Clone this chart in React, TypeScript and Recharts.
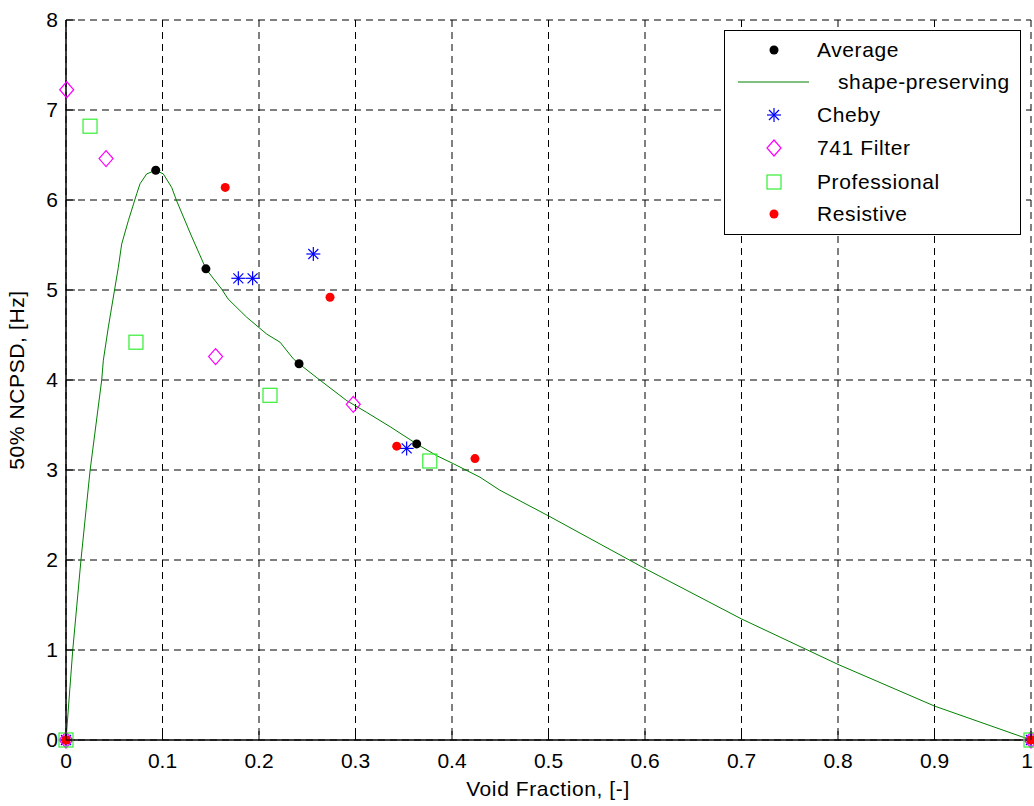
import React from 'react';
import {
  ComposedChart,
  Scatter,
  Line,
  XAxis,
  YAxis,
  CartesianGrid,
  Legend,
} from 'recharts';

const seriesNames = ['Average', 'shape-preserving', 'Cheby', '741 Filter', 'Professional', 'Resistive'];

const xTicks = [0, 0.1, 0.2, 0.3, 0.4, 0.5, 0.6, 0.7, 0.8, 0.9, 1];
const yTicks = [0, 1, 2, 3, 4, 5, 6, 7, 8];

const averagePoints = [
  { x: 0, y: 0 },
  { x: 0.093, y: 6.33 },
  { x: 0.145, y: 5.235 },
  { x: 0.2415, y: 4.18 },
  { x: 0.3634, y: 3.29 },
  { x: 1, y: 0 },
];

const shapePreservingPoints = [
  { x: 0, y: 0 },
  { x: 0.007, y: 1 },
  { x: 0.0155, y: 2 },
  { x: 0.025, y: 3 },
  { x: 0.037, y: 4 },
  { x: 0.0387, y: 4.22 },
  { x: 0.0439, y: 4.59 },
  { x: 0.0542, y: 5.25 },
  { x: 0.0577, y: 5.51 },
  { x: 0.0646, y: 5.77 },
  { x: 0.0733, y: 6.07 },
  { x: 0.0767, y: 6.18 },
  { x: 0.0836, y: 6.29 },
  { x: 0.093, y: 6.33 },
  { x: 0.1008, y: 6.29 },
  { x: 0.1095, y: 6.14 },
  { x: 0.1147, y: 5.99 },
  { x: 0.13, y: 5.6 },
  { x: 0.145, y: 5.235 },
  { x: 0.1613, y: 5.01 },
  { x: 0.168, y: 4.9 },
  { x: 0.187, y: 4.7 },
  { x: 0.208, y: 4.51 },
  { x: 0.2218, y: 4.42 },
  { x: 0.2356, y: 4.235 },
  { x: 0.2415, y: 4.18 },
  { x: 0.263, y: 4.0 },
  { x: 0.291, y: 3.77 },
  { x: 0.3116, y: 3.64 },
  { x: 0.336, y: 3.48 },
  { x: 0.3634, y: 3.29 },
  { x: 0.384, y: 3.16 },
  { x: 0.4014, y: 3.07 },
  { x: 0.429, y: 2.92 },
  { x: 0.4497, y: 2.775 },
  { x: 0.5, y: 2.49 },
  { x: 0.6, y: 1.905 },
  { x: 0.7, y: 1.345 },
  { x: 0.8, y: 0.84 },
  { x: 0.9, y: 0.377 },
  { x: 1, y: 0 },
];

const chebyPoints = [
  { x: 0, y: 0 },
  { x: 0.1786, y: 5.13 },
  { x: 0.1934, y: 5.13 },
  { x: 0.2563, y: 5.4 },
  { x: 0.353, y: 3.24 },
  { x: 1, y: 0 },
];

const filter741Points = [
  { x: 0, y: 0 },
  { x: 0.0007, y: 7.225 },
  { x: 0.0415, y: 6.46 },
  { x: 0.155, y: 4.26 },
  { x: 0.2977, y: 3.73 },
  { x: 1, y: 0 },
];

const professionalPoints = [
  { x: 0, y: 0 },
  { x: 0.0249, y: 6.82 },
  { x: 0.0725, y: 4.42 },
  { x: 0.2114, y: 3.83 },
  { x: 0.377, y: 3.1 },
  { x: 1, y: 0 },
];

const resistivePoints = [
  { x: 0, y: 0 },
  { x: 0.165, y: 6.14 },
  { x: 0.2736, y: 4.92 },
  { x: 0.3427, y: 3.265 },
  { x: 0.4238, y: 3.127 },
  { x: 1, y: 0 },
];

const FONT = '"Liberation Sans", Arial, Helvetica, sans-serif';
const FONT_SIZE = 21;
const LETTER = 0.6;
const TICK_LEN = 9;

const COLORS = {
  average: '#000000',
  line: '#008000',
  cheby: '#0000ff',
  filter: '#ff00ff',
  prof: '#33ee33',
  resistive: '#ff0000',
};

const DotMark = ({ cx, cy, color }: any) => <circle cx={cx} cy={cy} r={4.5} fill={color} stroke="none" />;
const StarMark = ({ cx, cy, color }: any) => (
  <g stroke={color} strokeWidth={1.2} fill="none">
    <line x1={cx - 7} y1={cy} x2={cx + 7} y2={cy} />
    <line x1={cx} y1={cy - 7} x2={cx} y2={cy + 7} />
    <line x1={cx - 5} y1={cy - 5} x2={cx + 5} y2={cy + 5} />
    <line x1={cx - 5} y1={cy + 5} x2={cx + 5} y2={cy - 5} />
  </g>
);
const DiamondMark = ({ cx, cy, color }: any) => (
  <polygon
    points={`${cx},${cy - 8} ${cx + 7},${cy} ${cx},${cy + 8} ${cx - 7},${cy}`}
    fill="none"
    stroke={color}
    strokeWidth={1.2}
  />
);
const SquareMark = ({ cx, cy, color }: any) => (
  <rect x={cx - 7} y={cy - 7} width={14} height={14} fill="none" stroke={color} strokeWidth={1.2} />
);

const BottomTick = (props: any) => {
  const { x, y, payload, index } = props;
  const axisY = y - 13;
  const isLast = payload.value === 1;
  return (
    <g>
      <line x1={x} y1={axisY} x2={x} y2={axisY - TICK_LEN} stroke="#000" strokeWidth={1} />
      <text
        x={isLast ? x + 2 : x}
        y={y}
        dy="0.71em"
        textAnchor={isLast ? 'end' : 'middle'}
        fontFamily={FONT}
        fontSize={FONT_SIZE}
        fill="#000"
      >
        {String(payload.value)}
      </text>
    </g>
  );
};

const LeftTick = (props: any) => {
  const { x, y, payload } = props;
  const axisX = x + 8;
  return (
    <g>
      <line x1={axisX} y1={y} x2={axisX + TICK_LEN} y2={y} stroke="#000" strokeWidth={1} />
      <text x={x} y={y} dy="0.355em" textAnchor="end" fontFamily={FONT} fontSize={FONT_SIZE} fill="#000">
        {String(payload.value)}
      </text>
    </g>
  );
};

const TopTick = (props: any) => {
  const { x, y } = props;
  return <line x1={x} y1={y} x2={x} y2={y + TICK_LEN} stroke="#000" strokeWidth={1} />;
};

const RightTick = (props: any) => {
  const { x, y } = props;
  return <line x1={x} y1={y} x2={x - TICK_LEN} y2={y} stroke="#000" strokeWidth={1} />;
};

const legendSymbols = [
  (cx: number, cy: number) => <DotMark cx={cx} cy={cy} color={COLORS.average} />,
  (cx: number, cy: number) => (
    <line x1={14} y1={cy} x2={85} y2={cy} stroke={COLORS.line} strokeWidth={1} />
  ),
  (cx: number, cy: number) => <StarMark cx={cx} cy={cy} color={COLORS.cheby} />,
  (cx: number, cy: number) => <DiamondMark cx={cx} cy={cy} color={COLORS.filter} />,
  (cx: number, cy: number) => <SquareMark cx={cx} cy={cy} color={COLORS.prof} />,
  (cx: number, cy: number) => <DotMark cx={cx} cy={cy} color={COLORS.resistive} />,
];

const legendRowY = [20, 52, 85, 118, 152, 184];

const LegendBox = () => (
  <svg width={297} height={205} style={{ display: 'block' }}>
    <rect x={0.5} y={0.5} width={296} height={204} fill="#fff" stroke="#000" strokeWidth={1} />
    {seriesNames.map((name, i) => (
      <g key={name}>
        {legendSymbols[i](50, legendRowY[i])}
        <text
          x={i === 1 ? 114 : 93}
          y={legendRowY[i]}
          dy="0.355em"
          fontFamily={FONT}
          fontSize={FONT_SIZE}
          letterSpacing={LETTER}
          fill="#000"
        >
          {name}
        </text>
      </g>
    ))}
  </svg>
);

const XLabel = () => (
  <text x={548} y={796} textAnchor="middle" fontFamily={FONT} fontSize={FONT_SIZE} letterSpacing={LETTER} fill="#000">
    Void Fraction, [-]
  </text>
);

const YLabel = () => (
  <text
    x={24}
    y={380}
    textAnchor="middle"
    transform="rotate(-90 24 380)"
    fontFamily={FONT}
    fontSize={FONT_SIZE}
    letterSpacing={LETTER}
    fill="#000"
  >
    50% NCPSD, [Hz]
  </text>
);

export default function App() {
  return (
    <div style={{ position: 'fixed', left: 0, top: 0, width: 1034, height: 806, background: '#fff', overflow: 'hidden' }}>
      <ComposedChart width={1034} height={806} margin={{ top: 20, right: 3, bottom: 0, left: 0 }}>
        <CartesianGrid
          xAxisId="main"
          yAxisId="main"
          stroke="#000"
          strokeDasharray="7 5"
          strokeWidth={1}
        />
        <XAxis
          xAxisId="main"
          type="number"
          dataKey="x"
          domain={[0, 1]}
          ticks={xTicks}
          interval={0}
          height={66}
          tickSize={6}
          tickMargin={7}
          tickLine={false}
          axisLine={{ stroke: '#000', strokeWidth: 1.5 }}
          tick={<BottomTick />}
          label={<XLabel />}
        />
        <XAxis
          xAxisId="top"
          orientation="top"
          type="number"
          dataKey="x"
          domain={[0, 1]}
          ticks={xTicks}
          interval={0}
          height={0}
          tickSize={0}
          tickMargin={0}
          tickLine={false}
          axisLine={false}
          tick={<TopTick />}
        />
        <YAxis
          yAxisId="main"
          type="number"
          dataKey="y"
          domain={[0, 8]}
          ticks={yTicks}
          interval={0}
          width={66}
          tickSize={6}
          tickMargin={2}
          tickLine={false}
          axisLine={{ stroke: '#000', strokeWidth: 1.5 }}
          tick={<LeftTick />}
          label={<YLabel />}
        />
        <YAxis
          yAxisId="right"
          orientation="right"
          type="number"
          dataKey="y"
          domain={[0, 8]}
          ticks={yTicks}
          interval={0}
          width={0}
          tickSize={0}
          tickMargin={0}
          tickLine={false}
          axisLine={false}
          tick={<RightTick />}
        />
        <Scatter
          name={seriesNames[0]}
          data={averagePoints}
          dataKey="y"
          xAxisId="main"
          yAxisId="main"
          isAnimationActive={false}
          shape={(p: any) => <DotMark cx={p.cx} cy={p.cy} color={COLORS.average} />}
        />
        <Line
          name={seriesNames[1]}
          data={shapePreservingPoints}
          dataKey="y"
          xAxisId="main"
          yAxisId="main"
          type="linear"
          stroke={COLORS.line}
          strokeWidth={1}
          dot={false}
          activeDot={false}
          isAnimationActive={false}
        />
        <Scatter
          name={seriesNames[2]}
          data={chebyPoints}
          dataKey="y"
          xAxisId="main"
          yAxisId="main"
          isAnimationActive={false}
          shape={(p: any) => <StarMark cx={p.cx} cy={p.cy} color={COLORS.cheby} />}
        />
        <Scatter
          name={seriesNames[3]}
          data={filter741Points}
          dataKey="y"
          xAxisId="main"
          yAxisId="main"
          isAnimationActive={false}
          shape={(p: any) => <DiamondMark cx={p.cx} cy={p.cy} color={COLORS.filter} />}
        />
        <Scatter
          name={seriesNames[4]}
          data={professionalPoints}
          dataKey="y"
          xAxisId="main"
          yAxisId="main"
          isAnimationActive={false}
          shape={(p: any) => <SquareMark cx={p.cx} cy={p.cy} color={COLORS.prof} />}
        />
        <Scatter
          name={seriesNames[5]}
          data={resistivePoints}
          dataKey="y"
          xAxisId="main"
          yAxisId="main"
          isAnimationActive={false}
          shape={(p: any) => <DotMark cx={p.cx} cy={p.cy} color={COLORS.resistive} />}
        />
        <Legend
          layout="vertical"
          align="center"
          verticalAlign="middle"
          content={() => <LegendBox />}
          wrapperStyle={{ position: 'absolute', left: 724, top: 30, width: 297, height: 205 }}
        />
      </ComposedChart>
    </div>
  );
}
